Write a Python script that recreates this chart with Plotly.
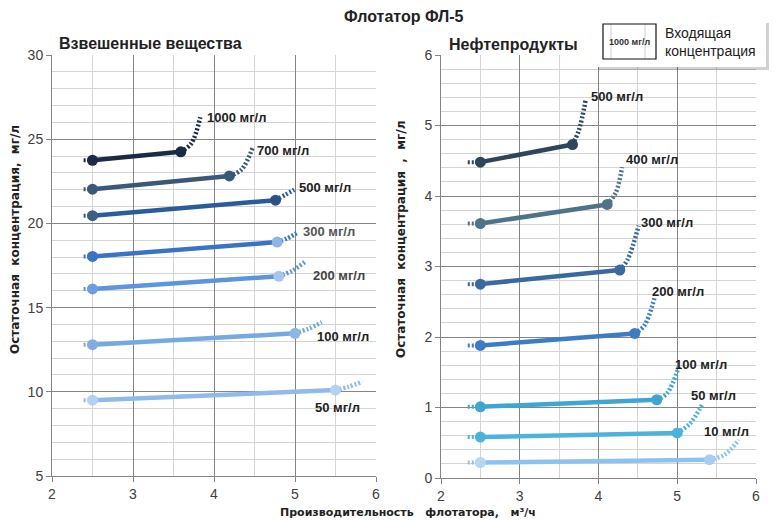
import plotly.graph_objects as go

# ---------------- data: Взвешенные вещества (left) ----------------
ss_labels = ["1000 мг/л", "700 мг/л", "500 мг/л", "300 мг/л", "200 мг/л", "100 мг/л", "50 мг/л"]
ss_x0 = [2.39, 2.39, 2.39, 2.39, 2.39, 2.39, 2.39]
ss_x1 = [2.5, 2.5, 2.5, 2.5, 2.5, 2.5, 2.5]
ss_y1 = [23.75, 22.03, 20.46, 18.04, 16.11, 12.8, 9.5]
ss_x2 = [3.59, 4.19, 4.76, 4.78, 4.8, 5.0, 5.5]
ss_y2 = [24.25, 22.82, 21.38, 18.89, 16.86, 13.47, 10.1]
ss_xm = [3.72, 4.34, 4.88, 4.9, 4.97, 5.17, 5.66]
ss_ym = [24.75, 23.2, 21.7, 19.1, 17.2, 13.75, 10.3]
ss_xt = [3.83, 4.48, 4.99, 5.02, 5.12, 5.33, 5.83]
ss_yt = [26.3, 24.54, 22.0, 19.42, 17.7, 14.13, 10.6]
ss_lx = [3.89, 4.5, 5.03, 5.08, 5.2, 5.25, 5.22]
ss_ly = [26.3, 24.3, 22.15, 19.54, 16.9, 13.27, 9.07]

# ---------------- data: Нефтепродукты (right) ----------------
np_labels = ["500 мг/л", "400 мг/л", "300 мг/л", "200 мг/л", "100 мг/л", "50 мг/л", "10 мг/л"]
np_x0 = [2.34, 2.34, 2.34, 2.34, 2.34, 2.34, 2.34]
np_x1 = [2.5, 2.5, 2.5, 2.5, 2.5, 2.5, 2.5]
np_y1 = [4.48, 3.61, 2.75, 1.88, 1.01, 0.58, 0.22]
np_x2 = [3.67, 4.11, 4.27, 4.46, 4.74, 5.0, 5.41]
np_y2 = [4.73, 3.88, 2.95, 2.05, 1.11, 0.64, 0.26]
np_xm = [3.75, 4.22, 4.37, 4.58, 4.87, 5.16, 5.6]
np_ym = [4.93, 4.05, 3.1, 2.16, 1.2, 0.77, 0.33]
np_xt = [3.84, 4.3, 4.51, 4.71, 5.02, 5.32, 5.78]
np_yt = [5.38, 4.41, 3.58, 2.55, 1.58, 1.05, 0.54]
np_lx = [3.88, 4.32, 4.52, 4.66, 4.94, 5.15, 5.31]
np_ly = [5.41, 4.52, 3.63, 2.65, 1.61, 1.17, 0.66]

# styles
ss_line = ["#1b2b45", "#3b5876", "#2c5b9c", "#3a72c6", "#5d95dc", "#76a8e2", "#8fbaea"]
ss_m1 = ["#1b2b45", "#3b5876", "#3d5f82", "#3a72c6", "#6a9ee0", "#80aee4", "#b5d0f0"]
ss_m2 = ["#1b2b45", "#3b5876", "#2a5288", "#8fb4e6", "#a6c6ee", "#8db5e6", "#b5d0f0"]
ss_tc = ["#222222", "#222222", "#222222", "#555555", "#444444", "#222222", "#222222"]

np_line = ["#2f455e", "#4f7389", "#3a69a0", "#3d7cc3", "#3fa6d4", "#4eb3dc", "#8cc2ef"]
np_m1 = ["#2f455e", "#4f7389", "#3a69a0", "#3d7cc3", "#3fa6d4", "#4eb3dc", "#b8d6f2"]
np_m2 = ["#2f455e", "#4f7389", "#3a69a0", "#3d7cc3", "#3fa6d4", "#4eb3dc", "#a9cdf0"]

fig = go.Figure()

def add_series(xa, ya, x0, x1, y1, x2, y2, xm, ym, xt, yt, lc, m1, m2):
    fig.add_trace(go.Scatter(x=[x0, x1], y=[y1, y1], mode="lines", xaxis=xa, yaxis=ya,
                             line=dict(color=lc, width=4, dash="2px,2px"), showlegend=False, hoverinfo="skip"))
    fig.add_trace(go.Scatter(x=[x2, xm, xt], y=[y2, ym, yt], mode="lines", xaxis=xa, yaxis=ya,
                             line=dict(color=lc, width=4.5, dash="2px,2px", shape="spline", smoothing=1.0),
                             showlegend=False, hoverinfo="skip"))
    fig.add_trace(go.Scatter(x=[x1, x2], y=[y1, y2], mode="lines+markers", xaxis=xa, yaxis=ya,
                             line=dict(color=lc, width=4.5),
                             marker=dict(size=11, color=[m1, m2]), showlegend=False))

for i in range(len(ss_labels)):
    add_series("x", "y", ss_x0[i], ss_x1[i], ss_y1[i], ss_x2[i], ss_y2[i], ss_xm[i], ss_ym[i],
               ss_xt[i], ss_yt[i], ss_line[i], ss_m1[i], ss_m2[i])
for i in range(len(np_labels)):
    add_series("x2", "y2", np_x0[i], np_x1[i], np_y1[i], np_x2[i], np_y2[i], np_xm[i], np_ym[i],
               np_xt[i], np_yt[i], np_line[i], np_m1[i], np_m2[i])

annotations = []
for i, t in enumerate(ss_labels):
    annotations.append(dict(x=ss_lx[i], y=ss_ly[i], xref="x", yref="y", text=t, showarrow=False,
                            xanchor="left", yanchor="middle",
                            font=dict(family="Liberation Sans", size=13, color=ss_tc[i], weight="bold")))
for i, t in enumerate(np_labels):
    annotations.append(dict(x=np_lx[i], y=np_ly[i], xref="x2", yref="y2", text=t, showarrow=False,
                            xanchor="left", yanchor="middle",
                            font=dict(family="Liberation Sans", size=13, color="#222222", weight="bold")))

# the page body has an 8px margin: the figure is sized to fit the window
OX, OY = 8, 8
W, H = 780 - OX, 520 - OY
def px(x): return (x - OX) / W
def py(y): return 1 - (y - OY) / H

annotations += [
    dict(x=px(404), y=py(16), xref="paper", yref="paper", text="Флотатор ФЛ-5", showarrow=False,
         xanchor="center", yanchor="middle",
         font=dict(family="Liberation Sans", size=16, color="#222222", weight="bold")),
    dict(x=px(57), y=py(43), xref="paper", yref="paper", text="Взвешенные вещества", showarrow=False,
         xanchor="left", yanchor="middle",
         font=dict(family="Liberation Sans", size=16, color="#222222", weight="bold")),
    dict(x=px(447), y=py(44), xref="paper", yref="paper", text="Нефтепродукты", showarrow=False,
         xanchor="left", yanchor="middle",
         font=dict(family="Liberation Sans", size=16, color="#222222", weight="bold")),
    dict(x=px(15), y=py(240), xref="paper", yref="paper", text="Остаточная  концентрация,  мг/л",
         showarrow=False, textangle=-90, xanchor="center", yanchor="middle",
         font=dict(family="DejaVu Sans", size=12, color="#222222", weight="bold")),
    dict(x=px(401), y=py(240), xref="paper", yref="paper", text="Остаточная  концентрация  ,  мг/л",
         showarrow=False, textangle=-90, xanchor="center", yanchor="middle",
         font=dict(family="DejaVu Sans", size=12, color="#222222", weight="bold")),
    dict(x=px(408), y=py(512), xref="paper", yref="paper", text="Производительность   флотатора,   м³/ч",
         showarrow=False, xanchor="center", yanchor="middle",
         font=dict(family="DejaVu Sans", size=11, color="#222222", weight="bold")),
    # legend box texts
    dict(x=px(629), y=py(42), xref="paper", yref="paper", text="1000 мг/л", showarrow=False,
         xanchor="center", yanchor="middle",
         font=dict(family="Liberation Sans", size=9, color="#333333", weight="bold")),
    dict(x=px(663), y=py(33), xref="paper", yref="paper", text="Входящая", showarrow=False,
         xanchor="left", yanchor="middle", font=dict(family="Liberation Sans", size=14, color="#222222")),
    dict(x=px(663), y=py(51), xref="paper", yref="paper", text="концентрация", showarrow=False,
         xanchor="left", yanchor="middle", font=dict(family="Liberation Sans", size=14, color="#222222")),
]

shapes = [
    # legend shadow
    dict(type="rect", xref="paper", yref="paper", x0=px(598), x1=px(769), y0=py(70), y1=py(23),
         fillcolor="rgba(0,0,0,0.18)", line=dict(width=0), layer="above"),
    dict(type="rect", xref="paper", yref="paper", x0=px(595), x1=px(766), y0=py(67), y1=py(20),
         fillcolor="white", line=dict(width=0), layer="above"),
    # inner small box with mini grid
    dict(type="line", xref="paper", yref="paper", x0=px(611), x1=px(611), y0=py(59), y1=py(24),
         line=dict(color="#d0d0d0", width=1), layer="above"),
    dict(type="line", xref="paper", yref="paper", x0=px(645), x1=px(645), y0=py(59), y1=py(24),
         line=dict(color="#d0d0d0", width=1), layer="above"),
    dict(type="rect", xref="paper", yref="paper", x0=px(603), x1=px(656), y0=py(59), y1=py(24),
         fillcolor="rgba(0,0,0,0)", line=dict(color="#111111", width=1.2), layer="above"),
]

axis_common = dict(
    showgrid=True, gridcolor="#858585", gridwidth=1, zeroline=False,
    showline=True, linecolor="#858585", linewidth=1,
    ticks="outside", ticklen=5, tickcolor="#858585",
    tickfont=dict(family="Liberation Sans", size=14, color="#404040"),
    fixedrange=True, automargin=False,
)

fig.update_layout(
    width=W, height=H,
    margin=dict(l=0, r=0, t=0, b=0, pad=0, autoexpand=False),
    paper_bgcolor="white", plot_bgcolor="white",
    showlegend=False,
    xaxis=dict(domain=[px(52), px(376)], range=[2, 6], dtick=1, anchor="y",
               minor=dict(dtick=0.5, showgrid=True, gridcolor="#d4d4d4", ticks=""), **axis_common),
    yaxis=dict(domain=[py(476), py(55)], range=[5, 30], dtick=5, anchor="x",
               minor=dict(dtick=1, showgrid=True, gridcolor="#d4d4d4", ticks=""), **axis_common),
    xaxis2=dict(domain=[px(441), px(756)], range=[2, 6], dtick=1, anchor="y2",
                minor=dict(dtick=0.5, showgrid=True, gridcolor="#d4d4d4", ticks=""), **axis_common),
    yaxis2=dict(domain=[py(478), py(55)], range=[0, 6], dtick=1, anchor="x2",
                minor=dict(dtick=0.2, showgrid=True, gridcolor="#d4d4d4", ticks=""), **axis_common),
    annotations=annotations,
    shapes=shapes,
)

fig.write_html("out.html")
